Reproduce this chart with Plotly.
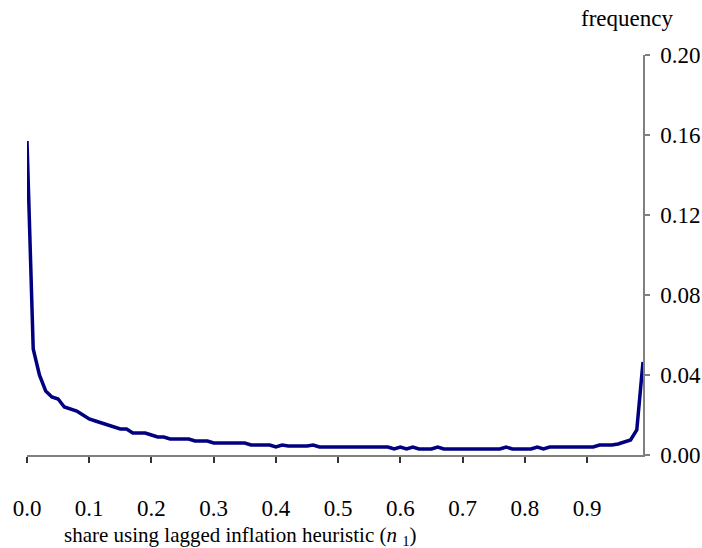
import plotly.graph_objects as go

# share using lagged inflation heuristic, 0.00 .. 0.99
share = [round(i * 0.01, 2) for i in range(100)]
frequency = [
    0.157, 0.053, 0.040, 0.032, 0.029, 0.028, 0.024, 0.023, 0.022, 0.020,
    0.018, 0.017, 0.016, 0.015, 0.014, 0.013, 0.013, 0.011, 0.011, 0.011,
    0.010, 0.009, 0.009, 0.008, 0.008, 0.008, 0.008, 0.007, 0.007, 0.007,
    0.006, 0.006, 0.006, 0.006, 0.006, 0.006, 0.005, 0.005, 0.005, 0.005,
    0.004, 0.005, 0.0045, 0.0045, 0.0045, 0.0045, 0.005, 0.004, 0.004, 0.004,
    0.004, 0.004, 0.004, 0.004, 0.004, 0.004, 0.004, 0.004, 0.004, 0.003,
    0.004, 0.003, 0.004, 0.003, 0.003, 0.003, 0.004, 0.003, 0.003, 0.003,
    0.003, 0.003, 0.003, 0.003, 0.003, 0.003, 0.003, 0.004, 0.003, 0.003,
    0.003, 0.003, 0.004, 0.003, 0.004, 0.004, 0.004, 0.004, 0.004, 0.004,
    0.004, 0.004, 0.005, 0.005, 0.005, 0.0055, 0.0065, 0.0075, 0.0125, 0.0465,
]

x_tick_vals = [0.0, 0.1, 0.2, 0.3, 0.4, 0.5, 0.6, 0.7, 0.8, 0.9]
x_tick_text = ["0.0", "0.1", "0.2", "0.3", "0.4", "0.5", "0.6", "0.7", "0.8", "0.9"]
y_tick_vals = [0.00, 0.04, 0.08, 0.12, 0.16, 0.20]
y_tick_text = ["0.00", "0.04", "0.08", "0.12", "0.16", "0.20"]

FONT = "Liberation Serif, Times New Roman, serif"

fig = go.Figure()
fig.add_trace(go.Scatter(
    x=share, y=frequency, mode="lines",
    line=dict(color="#000080", width=3.5),
    showlegend=False, hoverinfo="skip",
))

fig.update_layout(
    width=702, height=548,
    margin=dict(l=27, r=59, t=55, b=93, pad=0),
    paper_bgcolor="white", plot_bgcolor="white",
    font=dict(family=FONT, size=23, color="black"),
    xaxis=dict(
        range=[0, 0.99], tickvals=x_tick_vals, ticktext=x_tick_text,
        showgrid=False, zeroline=False, automargin=False,
        showline=True, linecolor="#808080", linewidth=1.5,
        ticks="outside", ticklen=6, tickcolor="#333333", tickwidth=1.5,
        ticklabelstandoff=26,
        tickfont=dict(family=FONT, size=23),
    ),
    yaxis=dict(
        range=[0, 0.2], tickvals=y_tick_vals, ticktext=y_tick_text,
        side="right", showgrid=False, zeroline=False, automargin=False,
        showline=True, linecolor="#808080", linewidth=1.5,
        ticks="outside", ticklen=5, tickcolor="#808080", tickwidth=1.5,
        ticklabelstandoff=6,
        tickfont=dict(family=FONT, size=23),
    ),
    annotations=[
        dict(text="frequency", xref="paper", yref="paper",
             x=0.9745, y=1.091, xanchor="center", yanchor="middle",
             showarrow=False, font=dict(family=FONT, size=23)),
        dict(text="share using lagged inflation heuristic (<i>n</i> <sub>1</sub>)",
             xref="paper", yref="paper", x=0.057, y=-0.203,
             xanchor="left", yanchor="middle",
             showarrow=False, font=dict(family=FONT, size=21)),
    ],
)

fig.write_html(
    "out.html",
    config={"displayModeBar": False},
    post_script="document.body.style.margin='0';document.body.style.padding='0';",
)
